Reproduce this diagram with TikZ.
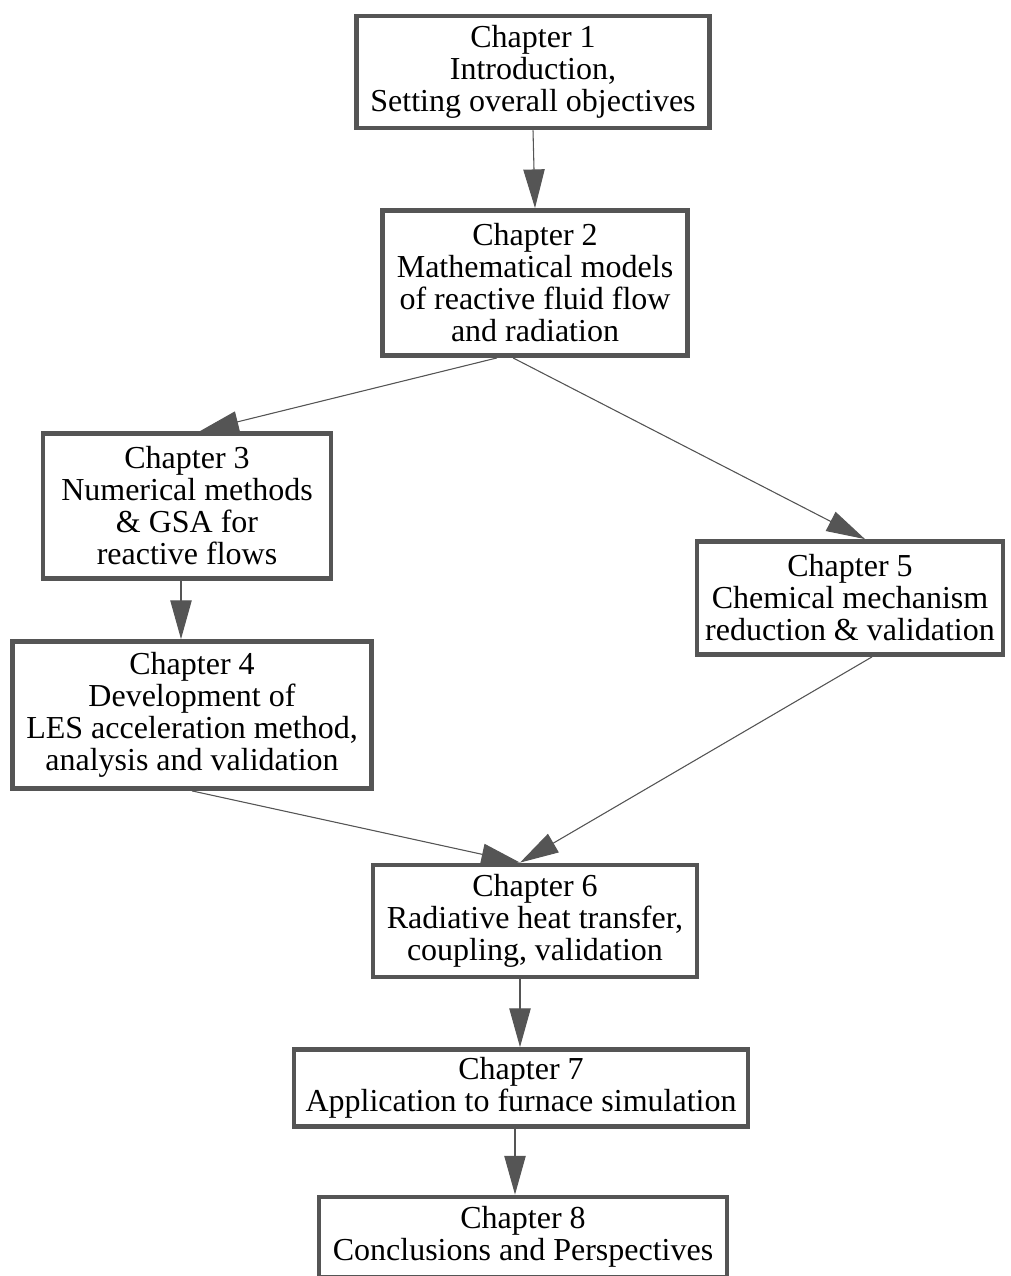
\documentclass[tikz,border=0pt]{standalone}
\usepackage{fontspec}
\setmainfont{Liberation Serif}
\usepackage{tikz}
\usetikzlibrary{arrows.meta}
\usetikzlibrary{positioning}
\definecolor{boxgray}{RGB}{85,85,85}

\begin{document}
\begin{tikzpicture}[x=0.75pt, y=-0.75pt,
        nodes={align=center, inner sep=0pt, font={\fontsize{24}{24}\selectfont}},
        chapter_style/.style={rectangle, draw=boxgray, line width=3.6pt, fill=white},
        arrow_style/.style={-{Triangle[length=29pt, width=16pt]}, draw=boxgray, fill=boxgray, line width=0.8pt}]

      \useasboundingbox (0,0) rectangle (1010,1276);

      \node[chapter_style, minimum width=264.75pt, minimum height=84pt] (intro) at (533,72) {Chapter 1\\ Introduction,\\Setting overall objectives};
      \node[chapter_style, minimum width=228.75pt, minimum height=108.75pt] (models) at (535,283) {Chapter 2\\Mathematical models\\of reactive fluid flow\\and radiation};
      \node[chapter_style, minimum width=216pt, minimum height=108.75pt] (numerics) at (187,506) {Chapter 3\\Numerical methods\\ \& GSA for\\reactive flows};
      \node[chapter_style, minimum width=269.25pt, minimum height=110.25pt] (les_accel) at (192,715) {Chapter 4\\Development of\\LES acceleration method,\\analysis and validation};
      \node[chapter_style, minimum width=229.5pt, minimum height=84.75pt] (mech_red) at (850,598) {Chapter 5\\Chemical mechanism\\reduction \& validation};
      \node[chapter_style, minimum width=243pt, minimum height=84pt] (radiation) at (535,921) {Chapter 6\\Radiative heat transfer,\\coupling, validation};
      \node[chapter_style, minimum width=340.5pt, minimum height=57.75pt] (furnace) at (521,1088) {Chapter 7\\Application to furnace simulation};
      \node[chapter_style, minimum width=306pt, minimum height=60pt] (conclusion) at (523,1237) {Chapter 8\\Conclusions and Perspectives};

      \draw[arrow_style] (intro.south) -- (models.north);
      \draw[arrow_style] ([xshift=-28.5pt]models.south) -- ([xshift=9.75pt]numerics.north);
      \draw[arrow_style] ([xshift=-16.5pt]models.south) -- ([xshift=11.25pt]mech_red.north);
      \draw[arrow_style] ([xshift=-4.5pt]numerics.south) -- ([xshift=-8.25pt]les_accel.north);
      \draw[arrow_style] (les_accel.south) -- ([xshift=-11.25pt]radiation.north);
      \draw[arrow_style] ([xshift=16.5pt]mech_red.south) -- ([xshift=-11.25pt]radiation.north);
      \draw[arrow_style] ([xshift=-11.25pt]radiation.south) -- ([xshift=-0.75pt]furnace.north);
      \draw[arrow_style] ([xshift=-4.5pt]furnace.south) -- ([xshift=-6pt]conclusion.north);
    \end{tikzpicture}
\end{document}
